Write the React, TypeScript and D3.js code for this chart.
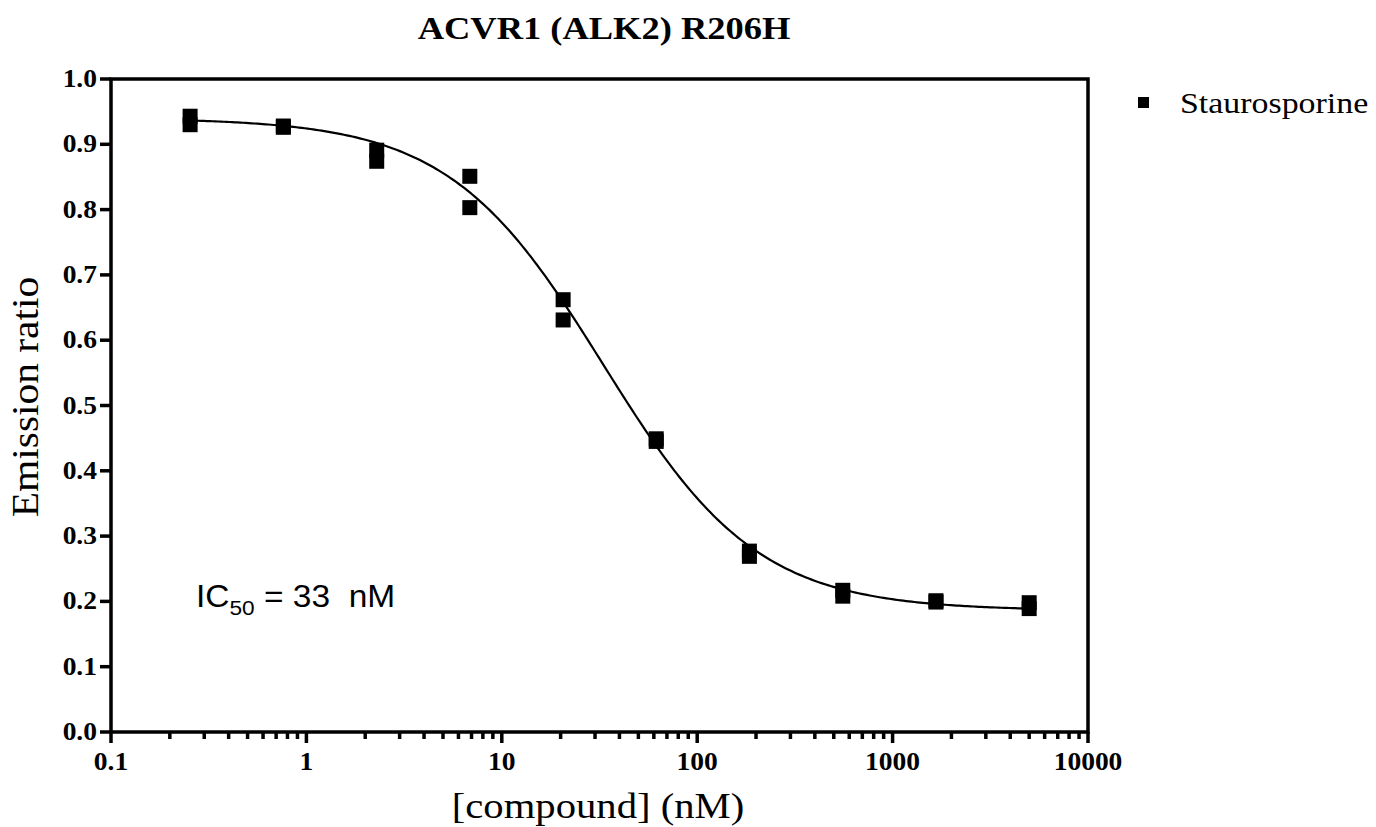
import React from "react";
import * as d3 from "d3";

const title = "ACVR1 (ALK2) R206H";
const seriesName = "Staurosporine";
const concentrations = [0.254, 0.762, 2.29, 6.86, 20.6, 61.7, 185, 556, 1667, 5000];
const replicate1 = [0.943, 0.928, 0.891, 0.851, 0.662, 0.449, 0.277, 0.217, 0.201, 0.198];
const replicate2 = [0.930, 0.926, 0.874, 0.803, 0.631, 0.445, 0.269, 0.208, 0.199, 0.189];
const fitTop = 0.94;
const fitBottom = 0.186;
const fitIC50 = 33;
const fitHill = 1.1;
const xTickLabels = [0.1, 1, 10, 100, 1000, 10000];
const yTickValues = [0, 0.1, 0.2, 0.3, 0.4, 0.5, 0.6, 0.7, 0.8, 0.9, 1.0];

const W = 1376;
const H = 827;
const L = 111, R = 1088, T = 79, B = 732;
const serif = "'Liberation Serif', 'Times New Roman', serif";
const sans = "'Liberation Sans', Arial, sans-serif";

function ST(props: any) {
  const { x, y, sx = 1.1, rotate, children, ...rest } = props;
  return (
    <text
      transform={`translate(${x},${y})${rotate ? " rotate(-90)" : ""} scale(${sx},1)`}
      fill="#000"
      {...rest}
    >
      {children}
    </text>
  );
}

export default function App() {
  const x = d3.scaleLog().domain([0.1, 10000]).range([L, R]);
  const y = d3.scaleLinear().domain([0, 1]).range([B, T]);
  const fit = (c: number) => fitBottom + (fitTop - fitBottom) / (1 + Math.pow(c / fitIC50, fitHill));
  const lo = Math.log10(concentrations[0]);
  const hi = Math.log10(concentrations[concentrations.length - 1]);
  const curvePts = d3.range(0, 301).map((i) => Math.pow(10, lo + ((hi - lo) * i) / 300));
  const line = d3.line<number>().x((c) => x(c)).y((c) => y(fit(c)));
  const allTicks = x.ticks();
  const pts: [number, number][] = [];
  concentrations.forEach((c, i) => {
    pts.push([c, replicate1[i]]);
    pts.push([c, replicate2[i]]);
  });
  const sq = 15;
  const fmtY = d3.format(".1f");
  const isDecade = (t: number) => Math.abs(Math.log10(t) - Math.round(Math.log10(t))) < 1e-6;

  return (
    <svg width={W} height={H} style={{ position: "absolute", left: 0, top: 0, background: "#fff" }}>
      <rect x={0} y={0} width={W} height={H} fill="#fff" />
      <ST x={604} y={39} sx={1.14} textAnchor="middle" fontFamily={serif} fontWeight="bold" fontSize={32}>
        {title}
      </ST>
      {/* frame */}
      <rect x={L} y={T} width={R - L} height={B - T} fill="none" stroke="#000" strokeWidth={3.5} />
      {/* y ticks */}
      {yTickValues.map((v) => (
        <g key={"y" + v}>
          <line x1={L - 11} x2={L} y1={y(v)} y2={y(v)} stroke="#000" strokeWidth={3.5} />
          <ST x={97} y={y(v) + 8} sx={1.1} textAnchor="end" fontFamily={serif} fontWeight="bold" fontSize={25}>
            {fmtY(v)}
          </ST>
        </g>
      ))}
      {/* x ticks */}
      {allTicks.map((t, i) => (
        <line key={"xt" + i} x1={x(t)} x2={x(t)} y1={B} y2={B + (isDecade(t) ? 11 : 7)} stroke="#000" strokeWidth={3.5} />
      ))}
      {xTickLabels.map((v) => (
        <ST key={"xl" + v} x={x(v)} y={770} sx={1.1} textAnchor="middle" fontFamily={serif} fontWeight="bold" fontSize={25}>
          {String(v)}
        </ST>
      ))}
      {/* axis titles */}
      <ST x={598} y={818} sx={1.13} textAnchor="middle" fontFamily={serif} fontSize={36}>
        [compound] (nM)
      </ST>
      <ST x={38} y={397} rotate sx={1.12} textAnchor="middle" fontFamily={serif} fontSize={37}>
        Emission ratio
      </ST>
      {/* curve */}
      <path d={line(curvePts) || ""} fill="none" stroke="#000" strokeWidth={2.2} />
      {/* points */}
      {pts.map(([c, v], i) => (
        <rect key={"p" + i} x={x(c) - sq / 2} y={y(v) - sq / 2} width={sq} height={sq} fill="#000" />
      ))}
      {/* legend */}
      <rect x={1138} y={97} width={11} height={11} fill="#000" />
      <ST x={1180} y={113} sx={1.13} fontFamily={serif} fontSize={30}>
        {seriesName}
      </ST>
      {/* IC50 annotation */}
      <ST x={196} y={607} sx={1.08} fontFamily={sans} fontSize={31} style={{ whiteSpace: "pre" }}>
        <tspan>IC</tspan>
        <tspan dy={8} fontSize={21}>50</tspan>
        <tspan dy={-8}>{" = " + fitIC50 + "  nM"}</tspan>
      </ST>
    </svg>
  );
}
